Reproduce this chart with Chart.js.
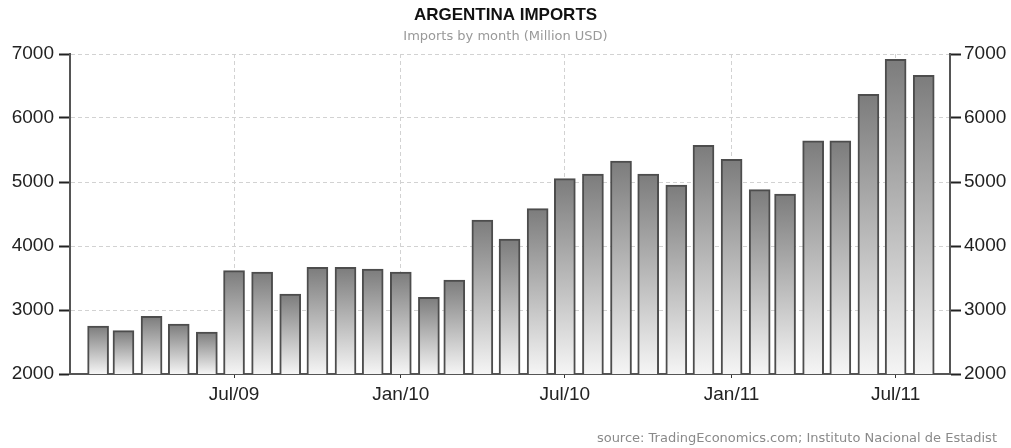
<!DOCTYPE html>
<html>
<head>
<meta charset="utf-8">
<script src="https://cdn.jsdelivr.net/npm/chart.js@4/dist/chart.umd.min.js"></script>
<style>
  html, body { margin: 0; padding: 0; background: #fff; }
  #wrap { position: relative; width: 1011px; height: 448px; }
  #src { position: absolute; right: 14px; top: 430px; font: 13px "DejaVu Sans", sans-serif; color: #8a8a8a; white-space: nowrap; }
</style>
</head>
<body>
<div id="wrap">
  <canvas id="c" width="1011" height="448"></canvas>
  <div id="src">source: TradingEconomics.com; Instituto Nacional de Estadist</div>
</div>
<script>
// ---- data ----
const months = [
  '2009-02','2009-03','2009-04','2009-05','2009-06','2009-07','2009-08','2009-09','2009-10','2009-11','2009-12',
  '2010-01','2010-02','2010-03','2010-04','2010-05','2010-06','2010-07','2010-08','2010-09','2010-10','2010-11','2010-12',
  '2011-01','2011-02','2011-03','2011-04','2011-05','2011-06','2011-07','2011-08'
];
const imports = [
  2750, 2677, 2901, 2781, 2656, 3615, 3594, 3250, 3667, 3667, 3641,
  3594, 3198, 3469, 4406, 4109, 4583, 5052, 5125, 5328, 5125, 4953, 5573,
  5355, 4880, 4812, 5645, 5645, 6370, 6917, 6667
];
const tickMonths = ['2009-07','2010-01','2010-07','2011-01','2011-07'];
const tickLabels = ['Jul/09','Jan/10','Jul/10','Jan/11','Jul/11'];
const axisStart = '2009-01-01';
const axisEnd = '2011-08-30';
const yTicks = [2000, 3000, 4000, 5000, 6000, 7000];
const yTickLabels = ['2000', '3000', '4000', '5000', '6000', '7000'];

// ---- helpers ----
function dayNum(s) {
  const p = s.split('-').map(Number);
  return Date.UTC(p[0], p[1] - 1, p[2] || 1) / 86400000;
}
const points = months.map((m, i) => ({ x: dayNum(m), y: imports[i] }));
const tickValues = tickMonths.map(dayNum);

const FONT = 'Liberation Sans';

function barFill(ctx) {
  if (ctx.type !== 'data') return '#999';
  const chart = ctx.chart;
  const ys = chart.scales.y;
  if (!ys) return '#aaa';
  const top = ys.getPixelForValue(ctx.parsed.y);
  const bottom = ys.getPixelForValue(ys.min);
  if (!isFinite(top) || !isFinite(bottom) || bottom - top < 1) return '#aaa';
  const g = chart.ctx.createLinearGradient(0, top, 0, bottom);
  g.addColorStop(0, '#7c7c7c');
  g.addColorStop(1, '#f5f5f5');
  return g;
}

const yAxisCommon = {
  min: 2000, max: 7000,
  afterBuildTicks: s => { s.ticks = yTicks.map(v => ({ value: v })); },
  border: { color: '#555', width: 2, dash: [4, 3] },
};

new Chart(document.getElementById('c'), {
  type: 'bar',
  data: {
    datasets: [{
      data: points,
      backgroundColor: barFill,
      borderColor: '#4d4d4d',
      borderWidth: 2,
      borderSkipped: false,
      barThickness: 21,
      yAxisID: 'y'
    }]
  },
  options: {
    responsive: false,
    animation: false,
    devicePixelRatio: 1,
    layout: { padding: { left: 0, right: 0, top: 0, bottom: 34 } },
    plugins: {
      legend: { display: false },
      tooltip: { enabled: false },
      title: {
        display: true, text: 'ARGENTINA IMPORTS', color: '#111',
        font: { size: 17, weight: 'bold', family: FONT },
        padding: { top: 5, bottom: 3 }
      },
      subtitle: {
        display: true, text: 'Imports by month (Million USD)', color: '#999',
        font: { size: 13, family: 'DejaVu Sans' },
        padding: { top: 0, bottom: 10 }
      }
    },
    scales: {
      x: {
        type: 'linear',
        offset: false,
        min: dayNum(axisStart), max: dayNum(axisEnd),
        afterBuildTicks: s => { s.ticks = tickValues.map(v => ({ value: v })); },
        afterFit: s => { s.height = 40; },
        ticks: {
          autoSkip: false, maxRotation: 0, color: '#222',
          font: { size: 19, family: FONT }, padding: 5,
          callback: (v, i) => tickLabels[i]
        },
        grid: { color: '#d2d2d2', offset: false, tickColor: '#333', tickLength: 4, tickBorderDash: [] },
        border: { color: '#555', width: 2, dash: [4, 3] }
      },
      y: Object.assign({}, yAxisCommon, {
        position: 'left',
        afterFit: s => { s.width = 70; },
        ticks: { color: '#222', font: { size: 19, family: FONT }, padding: 5, callback: (v, i) => yTickLabels[i] },
        grid: { color: '#d2d2d2', tickColor: '#222', tickLength: 11, tickWidth: 2, tickBorderDash: [] }
      }),
      y2: Object.assign({}, yAxisCommon, {
        position: 'right',
        afterFit: s => { s.width = 61; },
        ticks: { color: '#222', font: { size: 19, family: FONT }, padding: 3, callback: (v, i) => yTickLabels[i] },
        grid: { drawOnChartArea: false, color: '#d2d2d2', tickColor: '#222', tickLength: 11, tickWidth: 2, tickBorderDash: [] }
      })
    }
  }
});
</script>
</body>
</html>
